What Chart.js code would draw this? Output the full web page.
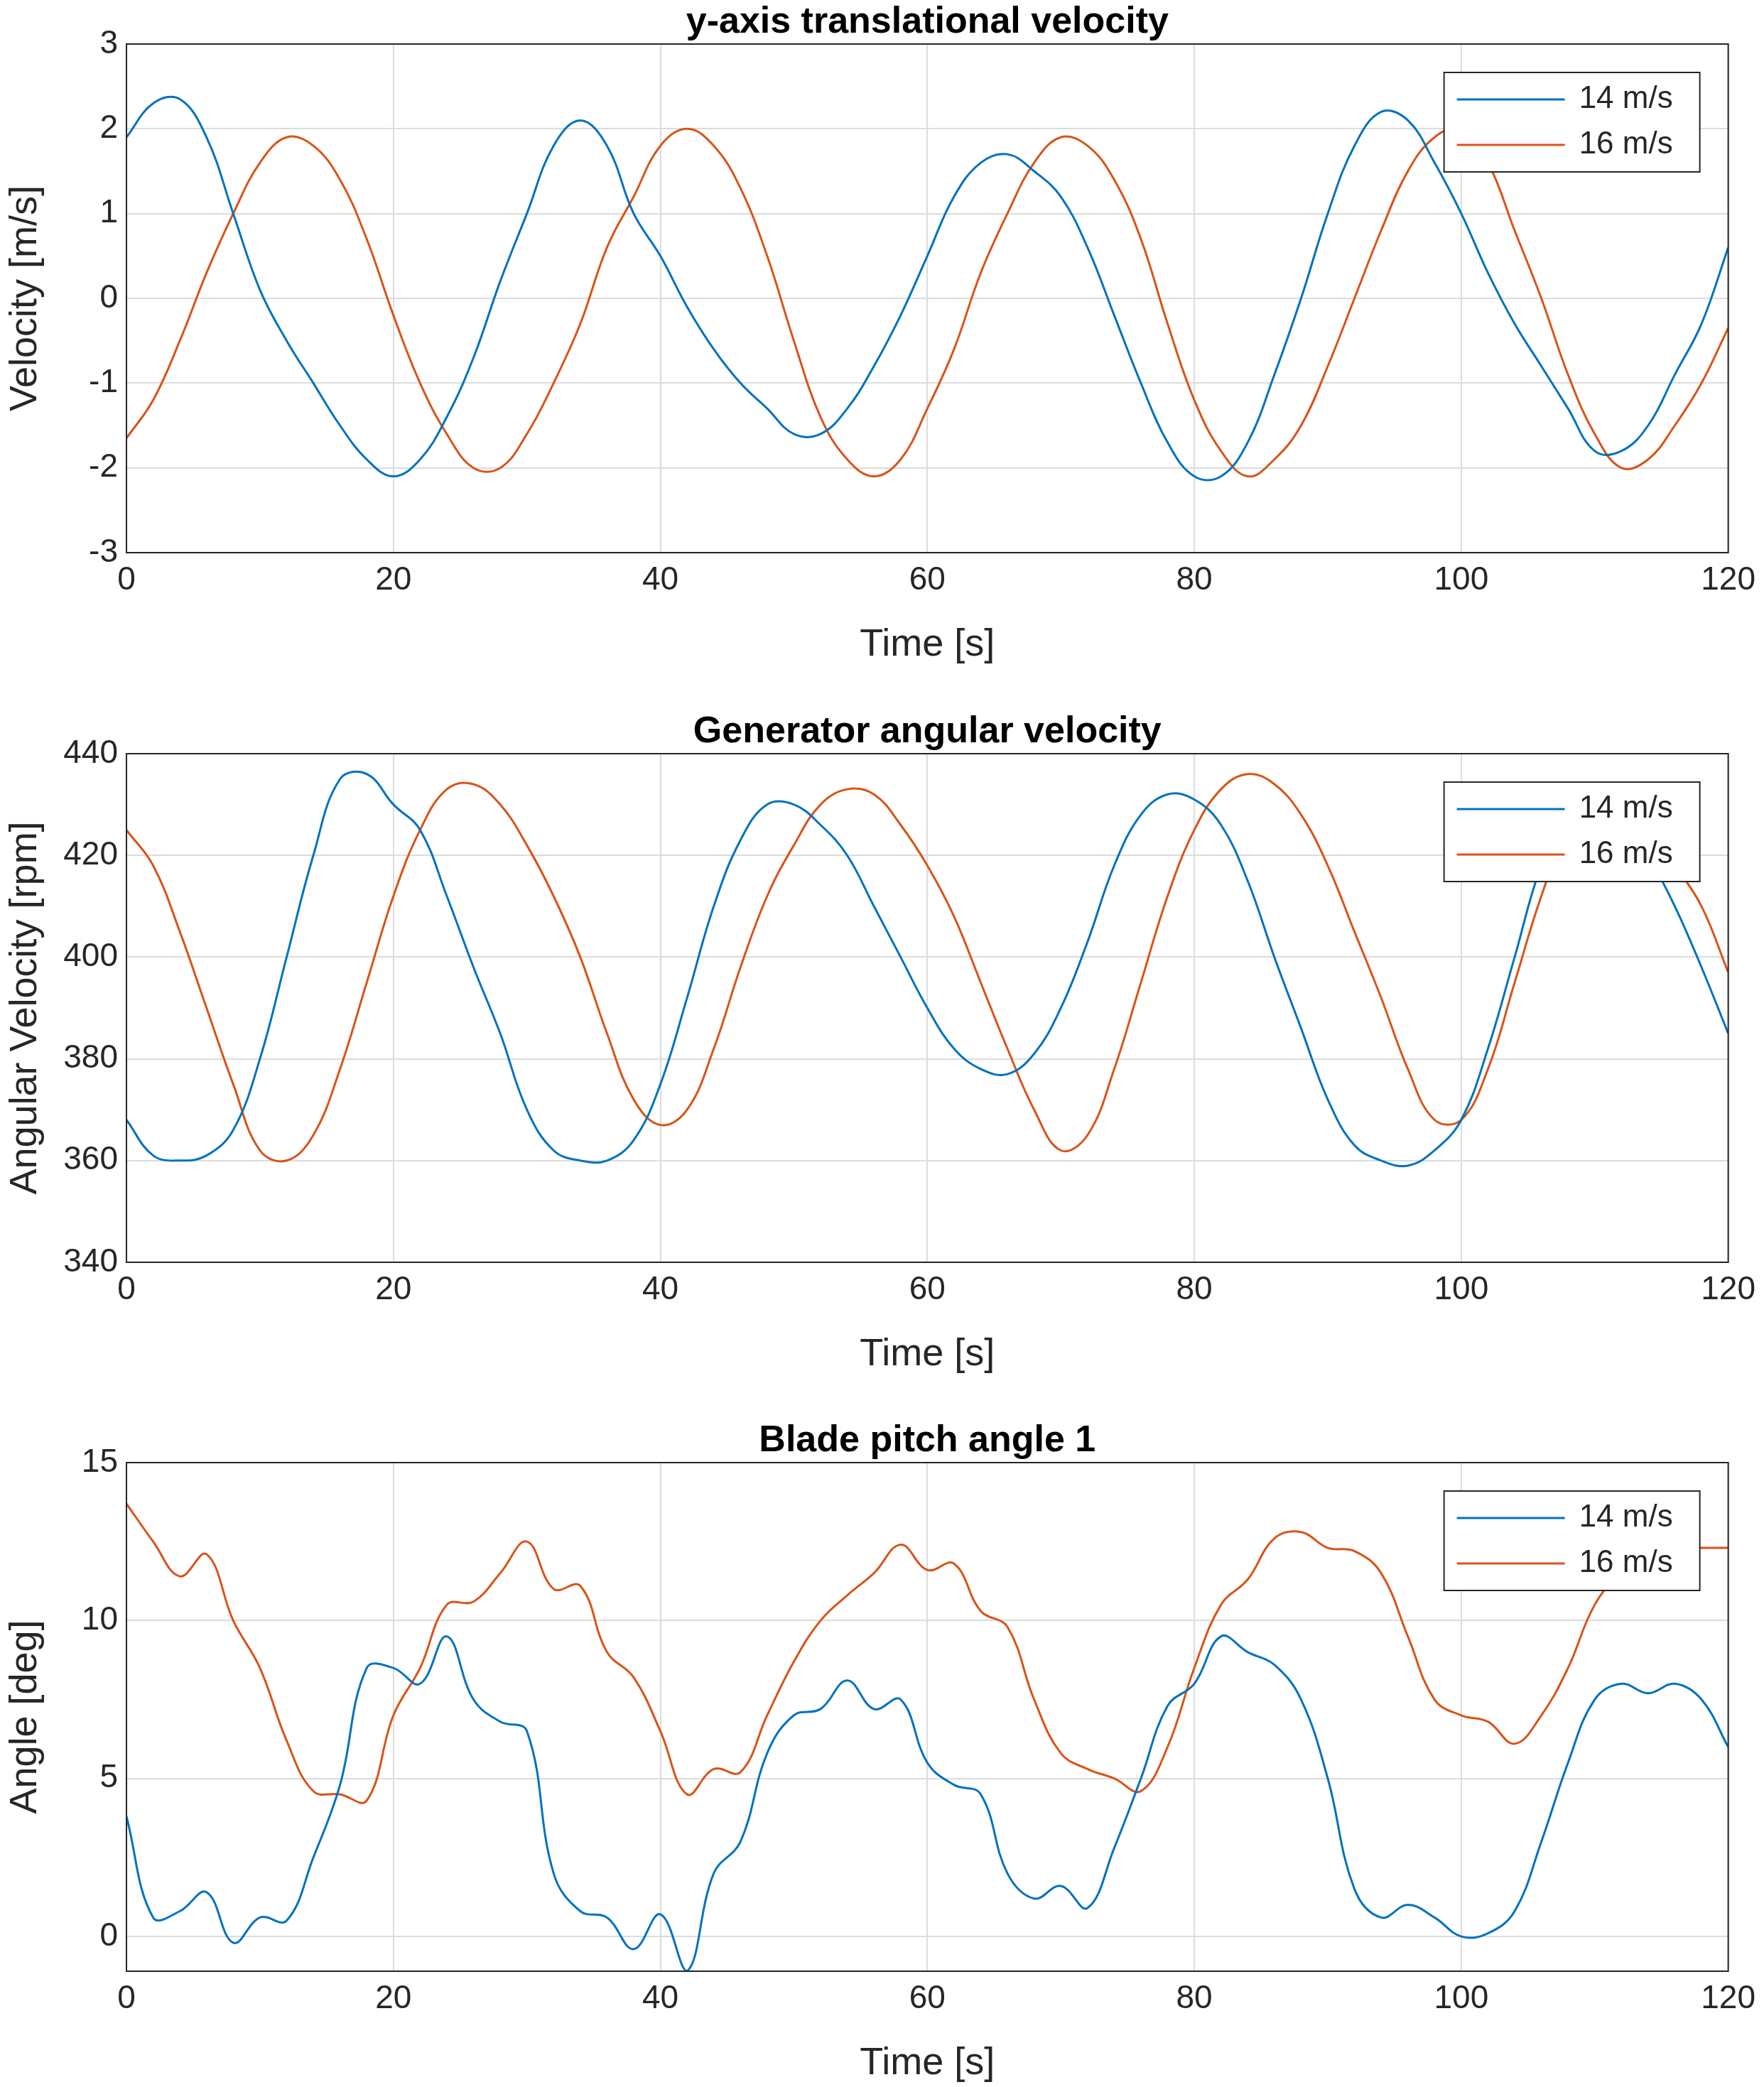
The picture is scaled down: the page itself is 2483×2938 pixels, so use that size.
<!DOCTYPE html><html><head><meta charset="utf-8">
<script src="https://cdn.jsdelivr.net/npm/chart.js@4/dist/chart.umd.min.js"></script>
<style>body{margin:0;background:#fff;width:2483px;height:2938px;position:relative;overflow:hidden}
.c{position:absolute;left:0;width:2483px;height:945px}</style></head><body>
<div class="c" style="top:0"><canvas id="c0"></canvas></div>
<div class="c" style="top:999px"><canvas id="c1"></canvas></div>
<div class="c" style="top:1997px"><canvas id="c2"></canvas></div>
<script>
const time=[];for(let t=0;t<=120;t+=2)time.push(t);
const vel14=[1.9,2.3,2.35,1.9,1.0,0.1,-0.5,-1.0,-1.5,-1.9,-2.1,-1.9,-1.4,-0.7,0.2,1.0,1.8,2.1,1.8,1.0,0.5,-0.1,-0.6,-1.0,-1.3,-1.6,-1.6,-1.3,-0.8,-0.2,0.5,1.2,1.6,1.7,1.5,1.2,0.6,-0.2,-1.0,-1.7,-2.1,-2.1,-1.7,-0.9,0.0,1.0,1.8,2.2,2.1,1.6,1.0,0.3,-0.3,-0.8,-1.3,-1.8,-1.8,-1.5,-0.9,-0.3,0.6];
const vel16=[-1.65,-1.2,-0.5,0.3,1.0,1.6,1.9,1.8,1.4,0.7,-0.2,-1.0,-1.6,-2.0,-2.0,-1.6,-1.0,-0.3,0.6,1.2,1.8,2.0,1.8,1.3,0.5,-0.5,-1.4,-1.9,-2.1,-1.9,-1.3,-0.6,0.3,1.0,1.6,1.9,1.8,1.4,0.7,-0.3,-1.2,-1.8,-2.1,-1.9,-1.5,-0.8,0.0,0.8,1.5,1.9,2.0,1.6,0.8,0.0,-0.9,-1.6,-2.0,-1.9,-1.5,-1.0,-0.35];
const gen14=[368,361,360,361,366,380,400,420,435,436,430,425,412,398,385,370,362,360,360,364,375,392,410,423,430,430,426,420,410,400,390,382,378,377,381,390,403,418,428,432,431,426,415,400,386,372,363,360,359,362,368,382,400,418,428,430,428,420,410,398,385];
const gen16=[425,418,405,390,375,362,360,365,378,395,412,425,433,434,430,422,412,400,385,372,367,370,382,398,412,422,430,433,432,426,418,408,395,382,370,362,365,378,395,412,425,433,436,434,428,418,405,392,378,368,368,378,395,412,425,430,430,425,418,410,397];
const pit14=[3.8,0.6,0.8,1.4,-0.2,0.6,0.5,2.5,4.8,8.5,8.5,8.0,9.5,7.5,6.8,6.5,2.0,0.8,0.6,-0.4,0.7,-1.1,2.0,3.0,5.8,7.0,7.2,8.1,7.2,7.5,5.5,4.8,4.5,2.0,1.2,1.6,0.9,2.8,5.0,7.3,8.0,9.5,9.0,8.6,7.5,5.0,1.5,0.6,1.0,0.6,0.0,0.1,0.8,3.0,5.5,7.5,8.0,7.7,8.0,7.5,6.0];
const pit16=[13.7,12.5,11.4,12.1,10.0,8.5,6.2,4.6,4.5,4.3,7.0,8.5,10.5,10.6,11.5,12.5,11.0,11.1,9.0,8.2,6.5,4.5,5.3,5.2,7.0,8.7,10.0,10.8,11.5,12.4,11.6,11.8,10.3,9.8,7.5,5.8,5.3,5.0,4.6,6.0,8.5,10.5,11.3,12.6,12.8,12.3,12.2,11.5,9.5,7.5,7.0,6.8,6.1,7.0,8.5,10.5,11.5,12.0,12.3,12.3,12.3];
const pitchTicks=[0,5,10,15];
const labels=['14 m/s','16 m/s'];
const F='"Liberation Sans", Arial, sans-serif';
const BLUE='#0072BD',ORANGE='#D95319';
function mk(id,title,ylab,a,b,ymin,ymax,step,fixedTicks){
 const plug={id:'p'+id,afterDraw(c){const x=c.ctx,A=c.chartArea;x.save();
  x.strokeStyle='#262626';x.lineWidth=2;x.strokeRect(A.left,A.top,A.right-A.left,A.bottom-A.top);
  x.fillStyle='#000';x.font='bold 52px '+F;x.textAlign='center';x.textBaseline='bottom';x.fillText(title,(A.left+A.right)/2,A.top-4);
  const w=360,h=140,lx=A.right-400,ly=A.top+40;x.fillStyle='#fff';x.fillRect(lx,ly,w,h);x.strokeStyle='#262626';x.strokeRect(lx,ly,w,h);
  x.font='44px '+F;x.textAlign='left';x.textBaseline='middle';
  [[BLUE,labels[0]],[ORANGE,labels[1]]].forEach((d,i)=>{const yy=ly+38+i*64;x.strokeStyle=d[0];x.lineWidth=3;x.beginPath();x.moveTo(lx+18,yy);x.lineTo(lx+170,yy);x.stroke();x.fillStyle='#262626';x.fillText(d[1],lx+190,yy);});
  x.restore();}};
 const yScale={min:ymin,max:ymax,afterFit(s){s.width=178},ticks:{stepSize:step,color:'#262626',font:{size:46,family:F},padding:12},
    grid:{color:'#dcdcdc',lineWidth:2,drawTicks:false},border:{display:false},
    title:{display:true,text:ylab,color:'#262626',font:{size:54,family:F},padding:{bottom:4}}};
 if(fixedTicks)yScale.afterBuildTicks=s=>{s.ticks=fixedTicks.map(v=>({value:v}));};
 new Chart(document.getElementById(id),{type:'line',data:{labels:time,datasets:[
  {data:a,borderColor:BLUE,borderWidth:3,pointRadius:0,tension:0.4},
  {data:b,borderColor:ORANGE,borderWidth:3,pointRadius:0,tension:0.4}]},
 options:{animation:false,responsive:true,maintainAspectRatio:false,layout:{padding:{top:62,right:45}},
  plugins:{legend:{display:false},tooltip:{enabled:false}},
  scales:{x:{type:'linear',min:0,max:120,afterFit(s){s.height=167},ticks:{stepSize:20,color:'#262626',font:{size:46,family:F},padding:12},
    grid:{color:'#dcdcdc',lineWidth:2,drawTicks:false},border:{display:false},
    title:{display:true,text:'Time [s]',color:'#262626',font:{size:54,family:F},padding:{top:14}}},
   y:yScale}},
 plugins:[plug]});}
mk('c0','y-axis translational velocity','Velocity [m/s]',vel14,vel16,-3,3,1);
mk('c1','Generator angular velocity','Angular Velocity [rpm]',gen14,gen16,340,440,20);
mk('c2','Blade pitch angle 1','Angle [deg]',pit14,pit16,-1.1,15,5,pitchTicks);
</script></body></html>
